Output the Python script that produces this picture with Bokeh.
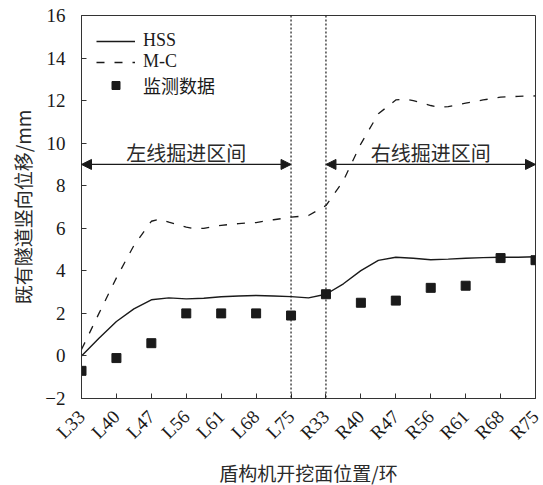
import math
from bokeh.plotting import figure
from bokeh.models import (Range1d, FixedTicker, Span, Arrow, NormalHead, Legend,
                          LegendItem, ColumnDataSource)
from bokeh.core.properties import value
from bokeh.embed import file_html
from bokeh.resources import INLINE

# ---------------- data ----------------
categories = ["L33", "L40", "L47", "L56", "L61", "L68", "L75",
              "R33", "R40", "R47", "R56", "R61", "R68", "R75"]
monitor = [-0.7, -0.1, 0.6, 2.0, 2.0, 2.0, 1.9, 2.9, 2.5, 2.6, 3.2, 3.3, 4.6, 4.5]

hss_pos = [0, 0.5, 1, 1.5, 2, 2.5, 3, 3.5, 4, 4.5, 5, 5.5, 6, 6.5, 7, 7.5,
           8, 8.5, 9, 9.5, 10, 10.5, 11, 11.5, 12, 12.5, 13]
hss = [0.0, 0.83, 1.62, 2.21, 2.64, 2.73, 2.68, 2.71, 2.78, 2.82, 2.84, 2.82,
       2.79, 2.73, 2.9, 3.39, 4.01, 4.49, 4.64, 4.59, 4.52, 4.55, 4.59, 4.62,
       4.64, 4.64, 4.66]

mc_pos = [0, 0.5, 1, 1.5, 2, 2.25, 2.5, 3, 3.25, 3.5, 4, 4.5, 5, 5.5, 6, 6.5,
          7, 7.5, 8, 8.5, 9, 9.25, 9.5, 10, 10.25, 10.5, 11, 11.5, 12, 12.5, 13]
mc = [0.3, 2.0, 3.67, 5.19, 6.33, 6.43, 6.29, 6.05, 5.97, 6.0, 6.14, 6.22,
      6.27, 6.4, 6.52, 6.6, 7.07, 8.24, 9.97, 11.38, 12.03, 12.08, 12.0, 11.77,
      11.68, 11.72, 11.88, 12.03, 12.16, 12.2, 12.22]

y_ticks = [-2, 0, 2, 4, 6, 8, 10, 12, 14, 16]
dividers = [6, 7]                      # L75 and R33
zone_start = [0, 7]
zone_end = [6, 13]
zone_y = [9, 9]
zone_text = ["左线掘进区间", "右线掘进区间"]

# ---------------- figure ----------------
SERIF = "Liberation Serif"
CJK = "Noto Sans CJK SC"
DARK = "#1a1a1a"

p = figure(frame_width=454, frame_height=383,
           x_range=Range1d(0, 13), y_range=Range1d(-2, 16),
           output_backend="svg", toolbar_location=None,
           min_border_left=81, min_border_right=8,
           min_border_top=15, min_border_bottom=87)
p.grid.visible = False
p.outline_line_color = "#333333"
p.outline_line_width = 1
p.background_fill_color = "white"
p.border_fill_color = "white"

idx = list(range(len(categories)))

r_hss = p.line(hss_pos, hss, line_color=DARK, line_width=1.4)
r_mc = p.line(mc_pos, mc, line_color=DARK, line_width=1.3, line_dash="8 10")
r_mon = p.scatter(idx, monitor, marker="square", size=9, color=DARK)

for d in dividers:
    p.add_layout(Span(location=d, dimension="height", line_color=DARK,
                      line_width=1.2, line_dash="2 2"))

arrow_src = ColumnDataSource(dict(x0=zone_start, x1=zone_end, y0=zone_y, y1=zone_y))
p.add_layout(Arrow(source=arrow_src, x_start="x0", x_end="x1",
                   y_start="y0", y_end="y1", line_color=DARK, line_width=1.3,
                   start=NormalHead(size=10, fill_color=DARK, line_color=DARK),
                   end=NormalHead(size=10, fill_color=DARK, line_color=DARK)))

text_x = [(a + b) / 2 for a, b in zip(zone_start, zone_end)]
p.text(x=text_x, y=zone_y, text=zone_text, text_align="center",
       text_baseline="middle", y_offset=-12, text_font=value(CJK),
       text_font_size="20px", text_color="#2a2a2a")

# axes
p.xaxis.ticker = FixedTicker(ticks=idx)
p.xaxis.major_label_overrides = {i: c for i, c in enumerate(categories)}
p.xaxis.major_label_orientation = math.pi / 4
p.yaxis.ticker = FixedTicker(ticks=y_ticks)
p.yaxis.major_label_overrides = {-2: "\u22122"}

for ax in (p.xaxis[0], p.yaxis[0]):
    ax.major_tick_in = 5
    ax.major_tick_out = 0
    ax.minor_tick_in = 0
    ax.minor_tick_out = 0
    ax.axis_line_color = "#333333"
    ax.major_tick_line_color = "#333333"
    ax.major_label_text_font = SERIF
    ax.major_label_text_font_size = "19px"
    ax.major_label_text_color = DARK
    ax.axis_label_text_font = CJK
    ax.axis_label_text_font_size = "19px"
    ax.axis_label_text_font_style = "normal"
    ax.axis_label_text_color = "#2a2a2a"

p.yaxis.major_label_standoff = 16
p.xaxis.major_label_standoff = 15
p.yaxis.axis_label = "既有隧道竖向位移/mm"
p.xaxis.axis_label = "盾构机开挖面位置/环"
p.yaxis.axis_label_standoff = 6
p.xaxis.axis_label_standoff = 5

legend = Legend(items=[LegendItem(label="HSS", renderers=[r_hss]),
                       LegendItem(label="M-C", renderers=[r_mc]),
                       LegendItem(label="监测数据", renderers=[r_mon])],
                location="top_left", margin=15, padding=16, spacing=0,
                glyph_width=39, glyph_height=20, label_standoff=8,
                label_text_font=SERIF + ", " + CJK, label_text_font_size="18px",
                label_text_color=DARK, border_line_color=None,
                background_fill_alpha=0)
p.add_layout(legend)

open("out.html", "w").write(file_html(p, INLINE))
